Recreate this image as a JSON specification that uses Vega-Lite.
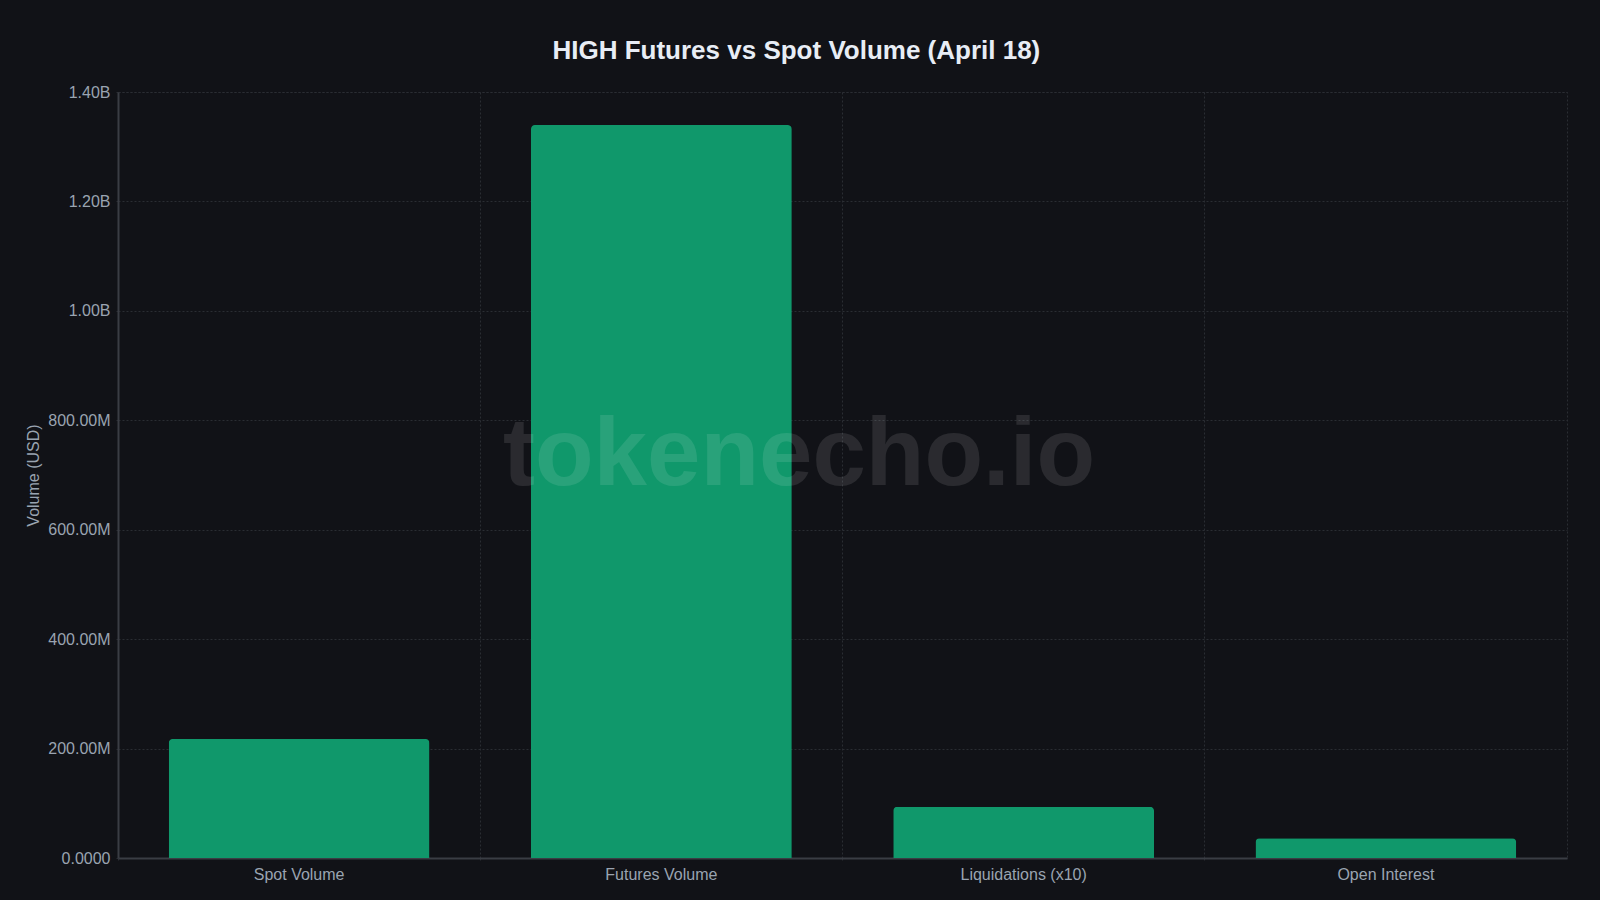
{
  "$schema": "https://vega.github.io/schema/vega-lite/v6.json",
  "width": 1449,
  "height": 766,
  "autosize": {"type": "none"},
  "padding": {"left": 118, "top": 92, "right": 33, "bottom": 42},
  "background": "#111217",
  "config": {
    "view": {"stroke": "#2a2d33", "strokeDash": [2, 2]},
    "font": "Liberation Sans"
  },
  "title": {
    "text": "HIGH Futures vs Spot Volume (April 18)",
    "font": "Liberation Sans",
    "fontSize": 26,
    "fontWeight": "bold",
    "color": "#e8edf5",
    "anchor": "middle",
    "frame": "bounds",
    "offset": 20
  },
  "datasets": {
    "bars": [
      {"metric": "Spot Volume", "volume": 217500000},
      {"metric": "Futures Volume", "volume": 1339700000},
      {"metric": "Liquidations (x10)", "volume": 93800000},
      {"metric": "Open Interest", "volume": 36000000}
    ],
    "mark": [
      {"metric": "Futures Volume", "volume": 735000000, "label": "tokenecho.io"}
    ]
  },
  "layer": [
    {
      "data": {"name": "bars"},
      "mark": {
        "type": "bar",
        "color": "#10986b",
        "width": {"band": 0.72},
        "cornerRadiusTopLeft": 4,
        "cornerRadiusTopRight": 4
      },
      "encoding": {
        "x": {
          "field": "metric",
          "type": "nominal",
          "scale": {
            "domain": ["Spot Volume", "Futures Volume", "Liquidations (x10)", "Open Interest"],
            "paddingInner": 0,
            "paddingOuter": 0
          },
          "axis": {
            "title": null,
            "bandPosition": 0,
            "labelAngle": 0,
            "labelFont": "Liberation Sans",
            "labelFontSize": 16,
            "labelColor": "#9aa4b1",
            "labelPadding": 4,
            "tickSize": 4,
            "tickColor": "#2a2d33",
            "tickDash": [2, 2],
            "domainColor": "#3a3d44",
            "domainWidth": 2,
            "grid": true,
            "gridColor": "#2a2d33",
            "gridDash": [2, 2]
          }
        },
        "y": {
          "field": "volume",
          "type": "quantitative",
          "scale": {"domain": [0, 1400000000], "nice": false},
          "axis": {
            "title": "Volume (USD)",
            "titleFont": "Liberation Sans",
            "titleFontSize": 16,
            "titleFontWeight": "normal",
            "titleColor": "#9aa4b1",
            "titlePadding": 6,
            "values": [0, 200000000, 400000000, 600000000, 800000000, 1000000000, 1200000000, 1400000000],
            "labelExpr": "datum.value == 0 ? '0.0000' : (datum.value >= 1e9 ? format(datum.value / 1e9, '.2f') + 'B' : format(datum.value / 1e6, '.2f') + 'M')",
            "labelFont": "Liberation Sans",
            "labelFontSize": 16,
            "labelColor": "#9aa4b1",
            "labelPadding": 4,
            "tickSize": 4,
            "tickColor": "#2a2d33",
            "tickDash": [2, 2],
            "domainColor": "#3a3d44",
            "domainWidth": 2,
            "grid": true,
            "gridColor": "#2a2d33",
            "gridDash": [2, 2]
          }
        }
      }
    },
    {
      "data": {"name": "mark"},
      "mark": {
        "type": "text",
        "font": "Liberation Sans",
        "fontSize": 96,
        "fontWeight": "bold",
        "align": "center",
        "baseline": "middle",
        "color": "#ffffff",
        "opacity": 0.1
      },
      "encoding": {
        "x": {"field": "metric", "type": "nominal", "bandPosition": 0.88},
        "y": {"field": "volume", "type": "quantitative"},
        "text": {"field": "label"}
      }
    }
  ]
}
